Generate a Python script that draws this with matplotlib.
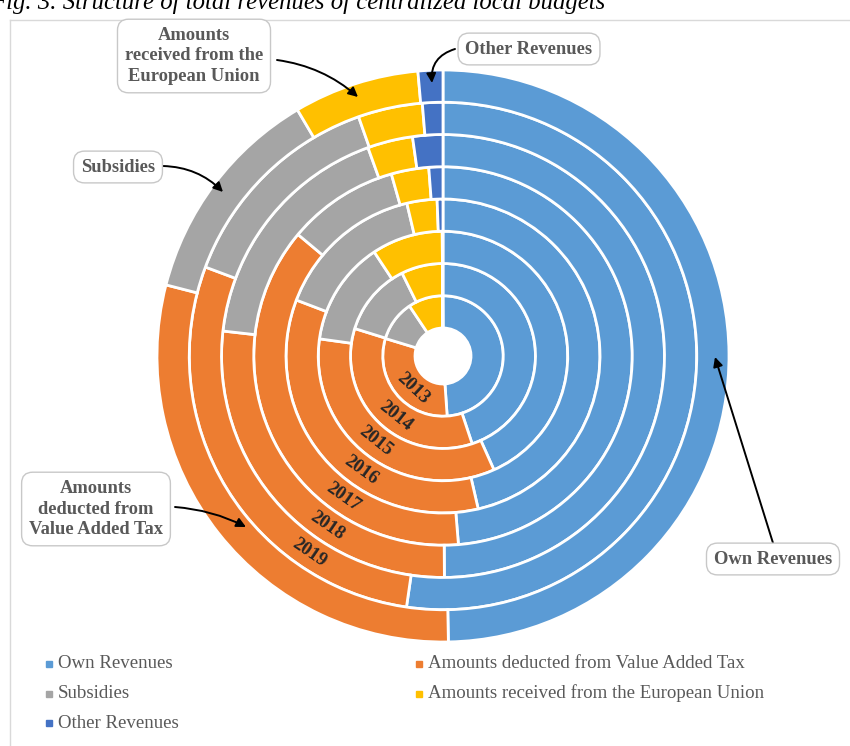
import matplotlib.pyplot as plt
from matplotlib.lines import Line2D
import numpy as np

# ring data (inner -> outer), shares in %
years = ['2013', '2014', '2015', '2016', '2017', '2018', '2019', '']
own = [48.9, 44.9, 43.3, 46.4, 48.7, 49.9, 52.3, 49.7]
vat = [30.8, 34.9, 33.9, 34.4, 37.4, 26.9, 28.4, 29.3]
subsidies = [10.9, 12.9, 13.5, 15.5, 9.5, 17.7, 13.9, 12.5]
eu = [9.3, 7.2, 9.2, 3.1, 3.2, 3.3, 4.1, 7.1]
other = [0.1, 0.1, 0.1, 0.6, 1.2, 2.2, 1.3, 1.4]

categories = ['Own Revenues', 'Amounts deducted from Value Added Tax', 'Subsidies',
              'Amounts received from the European Union', 'Other Revenues']
colors = ['#5B9BD5', '#ED7D31', '#A5A5A5', '#FFC000', '#4472C4']

W, H = 850, 746
fig = plt.figure(figsize=(W / 100, H / 100), dpi=100)

# donut geometry in pixels
cx, cy, R, hole_px = 443, 356, 286, 28
half = 292
ax = fig.add_axes([(cx - half) / W, (H - cy - half) / H, 2 * half / W, 2 * half / H])

hole = hole_px / R
w = (1 - hole) / len(years)
for i in range(len(years)):
    vals = [own[i], vat[i], subsidies[i], eu[i], other[i]]
    ax.pie(vals, radius=hole + (i + 1) * w, colors=colors, startangle=90,
           counterclock=False,
           wedgeprops=dict(width=w, edgecolor='white', linewidth=2))

ax.set_xlim(-half / R, half / R)
ax.set_ylim(-half / R, half / R)
ax.set_aspect('equal')
ax.axis('off')

# year labels along the orange segments
label_angles = [223, 218.5, 218.4, 215.7, 215.2, 214.4, 214.2, 214]
for i, lab in enumerate(years):
    if not lab:
        continue
    r = hole + (i + 0.5) * w
    th = np.radians(label_angles[i])
    ax.text(r * np.sin(th), r * np.cos(th), lab, rotation=180 - label_angles[i],
            rotation_mode='anchor', ha='center', va='center', fontsize=13.5,
            fontweight='bold', family='Liberation Serif', color='#262626')


def P(x, y):
    return (x, H - y)


# callout boxes: text, text centre, arrow start, arrow end, curvature
callouts = [
    ('Amounts\nreceived from the\nEuropean Union', (194, 56), (277, 60), (358, 97), -0.15),
    ('Other Revenues', (529, 49), (455, 49), (432, 83), 0.4),
    ('Subsidies', (118, 167), (163, 166), (223, 192), -0.2),
    ('Amounts\ndeducted from\nValue Added Tax', (96, 509), (175, 507), (246, 527), -0.1),
    ('Own Revenues', (773, 559), (773, 543), (715, 357), 0.0),
]
for txt, tpos, start, end, rad in callouts:
    fig.text(tpos[0] / W, 1 - tpos[1] / H, txt, ha='center', va='center',
             fontsize=13.3, fontweight='bold', family='Liberation Serif',
             color='#595959', linespacing=1.3,
             bbox=dict(boxstyle='round,pad=0.4,rounding_size=0.6', fc='white',
                       ec='#c8c8c8', lw=1))
    ax.annotate('', xy=P(*end), xytext=P(*start), xycoords='figure pixels',
                textcoords='figure pixels',
                arrowprops=dict(arrowstyle='-|>', color='black', lw=1.4,
                                mutation_scale=14, shrinkA=0, shrinkB=0,
                                connectionstyle='arc3,rad=%s' % rad))

# legend, filled row by row
leg_x = [49, 419]
for i, (name, col) in enumerate(zip(categories, colors)):
    x = leg_x[i % 2]
    y = 664 + (i // 2) * 29.5
    fig.add_artist(Line2D([x / W], [1 - y / H], marker='s', markersize=4.5,
                          color=col, transform=fig.transFigure))
    fig.text((x + 9) / W, 1 - y / H, name, ha='left', va='center',
             fontsize=13.6, family='Liberation Serif', color='#595959')

# chart frame and cut-off caption
fig.add_artist(Line2D([10 / W, 10 / W], [0, 1 - 20 / H], color='#d9d9d9', lw=1,
                      transform=fig.transFigure))
fig.add_artist(Line2D([10 / W, 1], [1 - 20 / H, 1 - 20 / H], color='#d9d9d9', lw=1,
                      transform=fig.transFigure))
fig.text(605 / W, 1 - 9 / H, 'Fig. 3. Structure of total revenues of centralized local budgets',
         ha='right', va='baseline', fontsize=17.8, style='italic',
         family='Liberation Serif', color='black')

fig.savefig('out.png', dpi=100, facecolor='white')
